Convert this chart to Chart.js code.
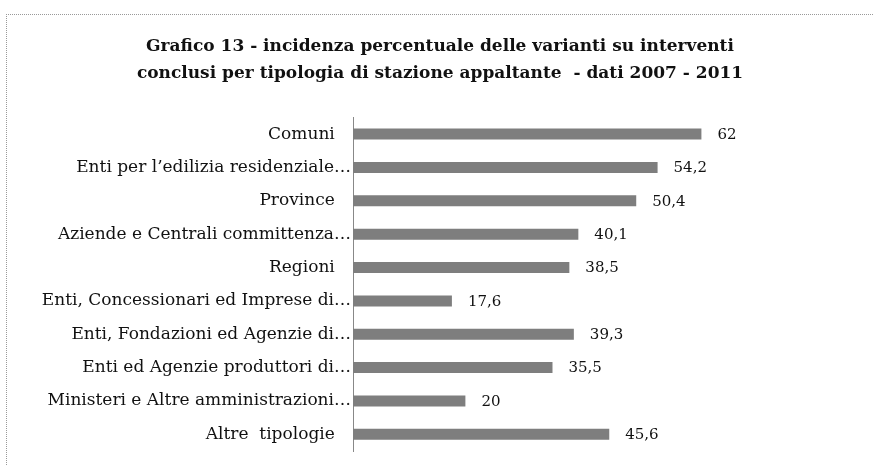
<!DOCTYPE html>
<html><head><meta charset="utf-8">
<script src="https://cdn.jsdelivr.net/npm/chart.js@4/dist/chart.umd.min.js"></script>
<style>
html,body{margin:0;padding:0;background:#fff;}
#wrap{position:absolute;left:0;top:0;width:874px;height:466px;}
#frame{position:absolute;left:6px;top:14px;width:870px;height:460px;border-top:1px dotted #999;border-left:1px dotted #999;}
canvas{position:absolute;left:0;top:0;}
</style></head>
<body><div id="wrap"><div id="frame"></div><canvas id="c" width="874" height="466"></canvas></div>
<script>
const categories = [
  "Comuni   ",
  "Enti per l\u2019edilizia residenziale\u2026",
  "Province   ",
  "Aziende e Centrali committenza\u2026",
  "Regioni   ",
  "Enti, Concessionari ed Imprese di\u2026",
  "Enti, Fondazioni ed Agenzie di\u2026",
  "Enti ed Agenzie produttori di\u2026",
  "Ministeri e Altre amministrazioni\u2026",
  "Altre  tipologie   "
];
const values = [62, 54.2, 50.4, 40.1, 38.5, 17.6, 39.3, 35.5, 20, 45.6];
const titleLines = [
  "Grafico 13 - incidenza percentuale delle varianti su interventi",
  "conclusi per tipologia di stazione appaltante  - dati 2007 - 2011"
];

const valueLabels = {
  id: 'valueLabels',
  afterDatasetsDraw(chart) {
    const ctx = chart.ctx;
    const meta = chart.getDatasetMeta(0);
    ctx.save();
    ctx.font = '15px "DejaVu Serif"';
    ctx.fillStyle = '#111';
    ctx.textBaseline = 'middle';
    ctx.textAlign = 'left';
    meta.data.forEach((bar, i) => {
      const txt = String(values[i]).replace('.', ',');
      ctx.fillText(txt, bar.x + 16, bar.y + 1);
    });
    ctx.restore();
  }
};

new Chart(document.getElementById('c'), {
  type: 'bar',
  data: {
    labels: categories,
    datasets: [{
      data: values,
      backgroundColor: '#7e7e7e',
      borderWidth: 0,
      barPercentage: 0.33,
      categoryPercentage: 1.0
    }]
  },
  options: {
    indexAxis: 'y',
    responsive: false,
    animation: false,
    devicePixelRatio: 1,
    layout: { padding: { left: 10, right: 4, top: 33, bottom: 15 } },
    plugins: {
      legend: { display: false },
      tooltip: { enabled: false },
      title: {
        display: true,
        text: titleLines,
        color: '#111',
        font: { family: '"DejaVu Serif"', size: 17, weight: 'bold', lineHeight: 1.6 },
        padding: { top: 0, bottom: 30 }
      }
    },
    scales: {
      x: {
        min: 0, max: 92,
        display: false,
        grid: { display: false }
      },
      y: {
        afterFit(scale) { scale.width = 343; },
        grid: { display: false, drawTicks: false },
        border: { display: true, color: '#888', width: 1, dash: [1, 1] },
        ticks: {
          color: '#111',
          padding: 2,
          font: { family: '"DejaVu Serif"', size: 17 }
        }
      }
    }
  },
  plugins: [valueLabels]
});
</script>
</body></html>
